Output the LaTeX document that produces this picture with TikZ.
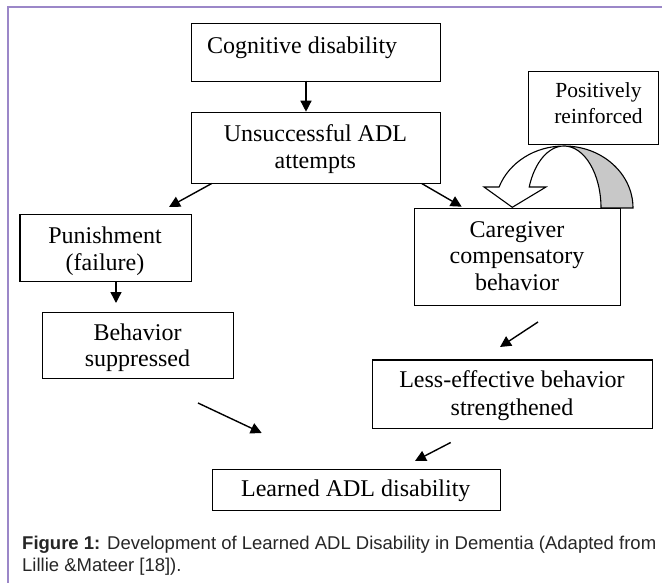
\documentclass[tikz,border=0pt]{standalone}
\usepackage{fontspec}
\setmainfont{Liberation Serif}
\newfontfamily\capfont{Liberation Sans}
\usetikzlibrary{arrows.meta}
\definecolor{framecol}{RGB}{155,135,200}
\definecolor{bandgray}{RGB}{200,200,200}
\begin{document}
\begin{tikzpicture}[x=1pt,y=-1pt,
  box/.style={draw, line width=1.2pt, fill=white, inner sep=0pt, anchor=north west},
  lbl/.style={font=\fontsize{24}{28}\selectfont, inner sep=0pt, anchor=base},
  slbl/.style={font=\fontsize{21.5}{26}\selectfont, inner sep=0pt, anchor=base},
  arr/.style={line width=1.4pt, -{Triangle[length=11pt,width=11pt]}},
  captxt/.style={font=\capfont\fontsize{18.5}{22}\selectfont, inner sep=0pt, anchor=base west, text=black!85}
]
\useasboundingbox (0,0) rectangle (662,583);
% frame
\draw[framecol, line width=2pt] (7.5,583) -- (7.5,7.5) -- (662,7.5);

% U-turn arrow (drawn before the box so the box covers its top)
\filldraw[fill=bandgray, line width=1.1pt]
  (633,208) arc[start angle=0, end angle=-90, x radius=69, y radius=62]
  arc[start angle=-90, end angle=0, x radius=37, y radius=62] -- cycle;
\filldraw[fill=white, line width=1.1pt]
  (564,146) arc[start angle=-90, end angle=-160.2, x radius=69, y radius=62]
  -- (484,187) -- (512.3,207.3) -- (546,187) -- (529.2,187)
  arc[start angle=-160.2, end angle=-90, x radius=37, y radius=62] -- cycle;

% boxes
\node[box, minimum width=249pt, minimum height=57.4pt] (cog) at (190.7,23.3) {};
\node[box, minimum width=249pt, minimum height=71pt] (uns) at (190.7,112) {};
\node[box, minimum width=171.4pt, minimum height=67pt] (pun) at (19.3,214) {};
\node[box, minimum width=191.3pt, minimum height=66.3pt] (beh) at (41.7,311.7) {};
\node[box, minimum width=206pt, minimum height=97pt] (care) at (414,208) {};
\node[box, minimum width=130pt, minimum height=73pt] (pos) at (528,71) {};
\node[box, minimum width=280pt, minimum height=68.4pt] (less) at (372,359.3) {};
\node[box, minimum width=288.3pt, minimum height=41pt] (lrn) at (211.7,469) {};

% texts
\node[lbl, anchor=base west] (tcog) at (207,53.3) {Cognitive disability};
\node[lbl] (tuns1) at (315.4,141.7) {Unsuccessful ADL};
\node[lbl] (tuns2) at (315.4,168.3) {attempts};
\node[lbl] (tpun1) at (105,243.3) {Punishment};
\node[lbl] (tpun2) at (105,270) {(failure)};
\node[lbl] (tbeh1) at (137.5,340) {Behavior};
\node[lbl] (tbeh2) at (137.5,366) {suppressed};
\node[lbl] (tcare1) at (517,237) {Caregiver};
\node[lbl] (tcare2) at (517,263.5) {compensatory};
\node[lbl] (tcare3) at (517,290) {behavior};
\node[slbl] (tpos1) at (598.5,97.3) {Positively};
\node[slbl] (tpos2) at (598.5,123.3) {reinforced};
\node[lbl] (tless1) at (512,387) {Less-effective behavior};
\node[lbl] (tless2) at (512,415) {strengthened};
\node[lbl] (tlrn) at (355.8,496.7) {Learned ADL disability};

% connectors
\coordinate (c1s) at (306,80.7);   \coordinate (c1e) at (306,111.7);
\coordinate (c2s) at (211.7,183.5); \coordinate (c2e) at (169,207);
\coordinate (c3s) at (421.7,183.5); \coordinate (c3e) at (461.7,206.7);
\coordinate (c4s) at (116,281);    \coordinate (c4e) at (116,303);
\coordinate (c5s) at (198,403);    \coordinate (c5e) at (261.7,433);
\coordinate (c6s) at (538,322);    \coordinate (c6e) at (500,347);
\coordinate (c7s) at (450.7,442.5); \coordinate (c7e) at (415,461);
\draw[arr] (c1s) -- (c1e);
\draw[arr] (c2s) -- (c2e);
\draw[arr] (c3s) -- (c3e);
\draw[arr] (c4s) -- (c4e);
\draw[arr] (c5s) -- (c5e);
\draw[arr] (c6s) -- (c6e);
\draw[arr] (c7s) -- (c7e);

% caption
\node[captxt] (cap1) at (22,549) {\textbf{Figure 1:} Development of Learned ADL Disability in Dementia (Adapted from};
\node[captxt] (cap2) at (22,571) {Lillie \&Mateer [18]).};
\end{tikzpicture}
\end{document}
